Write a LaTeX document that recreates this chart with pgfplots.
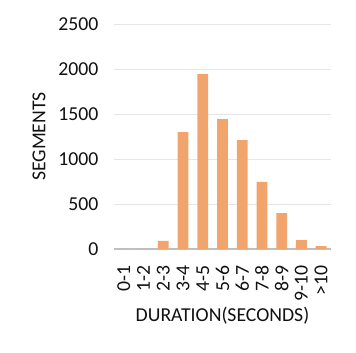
\documentclass[border=0pt]{standalone}
\usepackage{fontspec}
\setmainfont{Carlito}
\usepackage{pgfplots}
\pgfplotsset{compat=1.18}
\definecolor{barOrange}{HTML}{F1A46C}
\definecolor{gridGrey}{HTML}{E6E6E6}
\definecolor{axisGrey}{HTML}{BFBFBF}
\definecolor{txt}{HTML}{111111}

\pgfplotstableread{
idx count
0 0
1 0
2 90
3 1300
4 1944
5 1444
6 1211
7 745
8 400
9 100
10 33
}\durtable

\begin{document}
\begin{tikzpicture}
\begin{axis}[
  scale only axis, width=217bp, height=225bp,
  at={(0,0)}, anchor=south west,
  ybar, bar width=0.55, bar shift=0pt,
  xmin=-0.5, xmax=10.5, ymin=0, ymax=2500,
  ytick={0,500,1000,1500,2000,2500},
  xtick=data,
  xticklabels={0-1,1-2,2-3,3-4,4-5,5-6,6-7,7-8,8-9,9-10,>10},
  major tick length=0pt,
  axis x line*=bottom, axis y line*=left,
  x axis line style={axisGrey, line width=1.6pt, -},
  y axis line style={draw=none},
  ymajorgrids, grid style={gridGrey, line width=1pt},
  /pgf/number format/set thousands separator={},
  /pgf/number format/assume math mode=true,
  tick label style={font=\fontsize{19.8}{22}\selectfont, text=txt},
  yticklabel style={xshift=-12bp},
  xticklabel style={yshift=-13bp, rotate=90, anchor=east},
  ylabel={SEGMENTS}, xlabel={DURATION(SECONDS)},
  every axis y label/.style={at={(axis description cs:-0.3456,0.5)}, anchor=center, rotate=90,
    font=\fontsize{19.8}{22}\selectfont, text=txt},
  every axis x label/.style={at={(axis description cs:0.5,-0.2978)}, anchor=center,
    font=\fontsize{19.8}{22}\selectfont, text=txt},
  clip=false,
]
\addplot[fill=barOrange, draw=none] table[x=idx, y=count] {\durtable};
\end{axis}
\pgfresetboundingbox
\path[use as bounding box] (-114bp,-104bp) rectangle (242bp,249bp);
\end{tikzpicture}
\end{document}
